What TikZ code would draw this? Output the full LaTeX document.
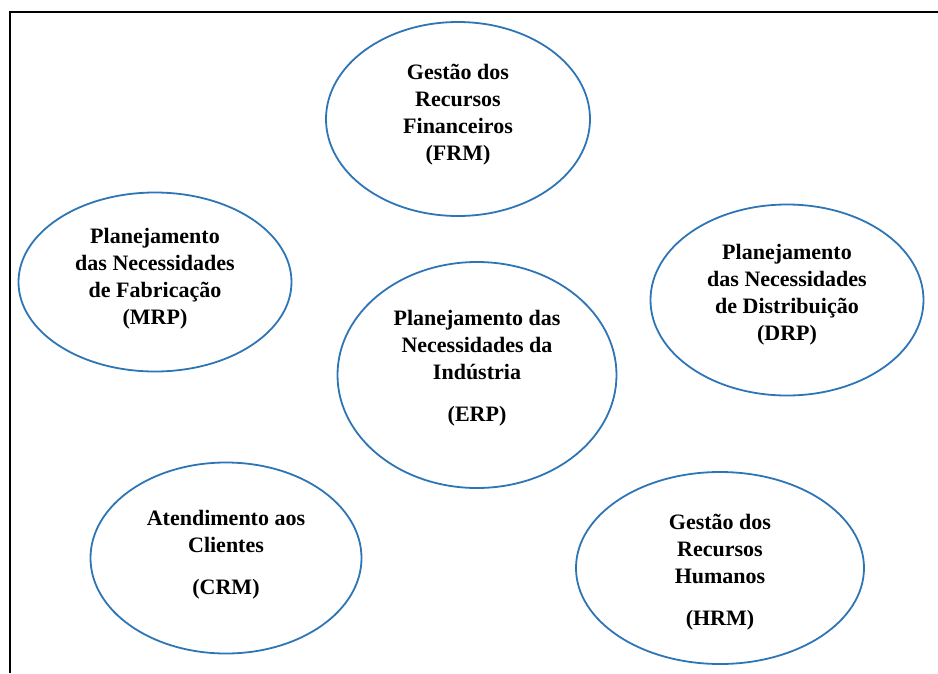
\documentclass[tikz,border=0pt]{standalone}
\usepackage{fontspec}
\setmainfont{Liberation Serif}
\usetikzlibrary{shapes.geometric}
\definecolor{ellblue}{RGB}{46,117,182}
\begin{document}
\begin{tikzpicture}[x=1pt,y=-1pt,
		module/.style={draw=ellblue, line width=1.8pt, ellipse, inner sep=0pt},
		modtext/.style={align=center, inner sep=0pt, font=\fontsize{22}{27}\selectfont\bfseries}]
		
		\useasboundingbox (0,0) rectangle (938,673);
		
		% frame, L and T
		\coordinate (F1) at (10,673);
		\coordinate (F2) at (10,12);
		\coordinate (F3) at (938,12);
		\draw[line width=2pt] (F1) -- (F2) -- (F3);
		
		% the modules
		\node[module, minimum width=264, minimum height=194] (FRM) at (458,119) {};
		\node[module, minimum width=273, minimum height=179] (MRP) at (155,282) {};
		\node[module, minimum width=279, minimum height=226] (ERP) at (477,375) {};
		\node[module, minimum width=273, minimum height=191] (DRP) at (787,300) {};
		\node[module, minimum width=271, minimum height=191] (CRM) at (226,558) {};
		\node[module, minimum width=288, minimum height=192] (HRM) at (720,568) {};
		
		% their texts
		\node[modtext, yshift=4pt] (FRMtext) at (FRM) {Gestão dos\\Recursos\\Financeiros\\(FRM)};
		\node[modtext, yshift=3pt] (MRPtext) at (MRP) {Planejamento\\das Necessidades\\de Fabricação\\(MRP)};
		\node[modtext, yshift=7pt] (ERPtext) at (ERP) {Planejamento das\\Necessidades da\\Indústria\\[15pt](ERP)};
		\node[modtext, yshift=5pt] (DRPtext) at (DRP) {Planejamento\\das Necessidades\\de Distribuição\\(DRP)};
		\node[modtext, yshift=3pt] (CRMtext) at (CRM) {Atendimento aos\\Clientes\\[15pt](CRM)};
		\node[modtext, yshift=-4pt] (HRMtext) at (HRM) {Gestão dos\\Recursos\\Humanos\\[15pt](HRM)};
		
		\end{tikzpicture}
\end{document}
